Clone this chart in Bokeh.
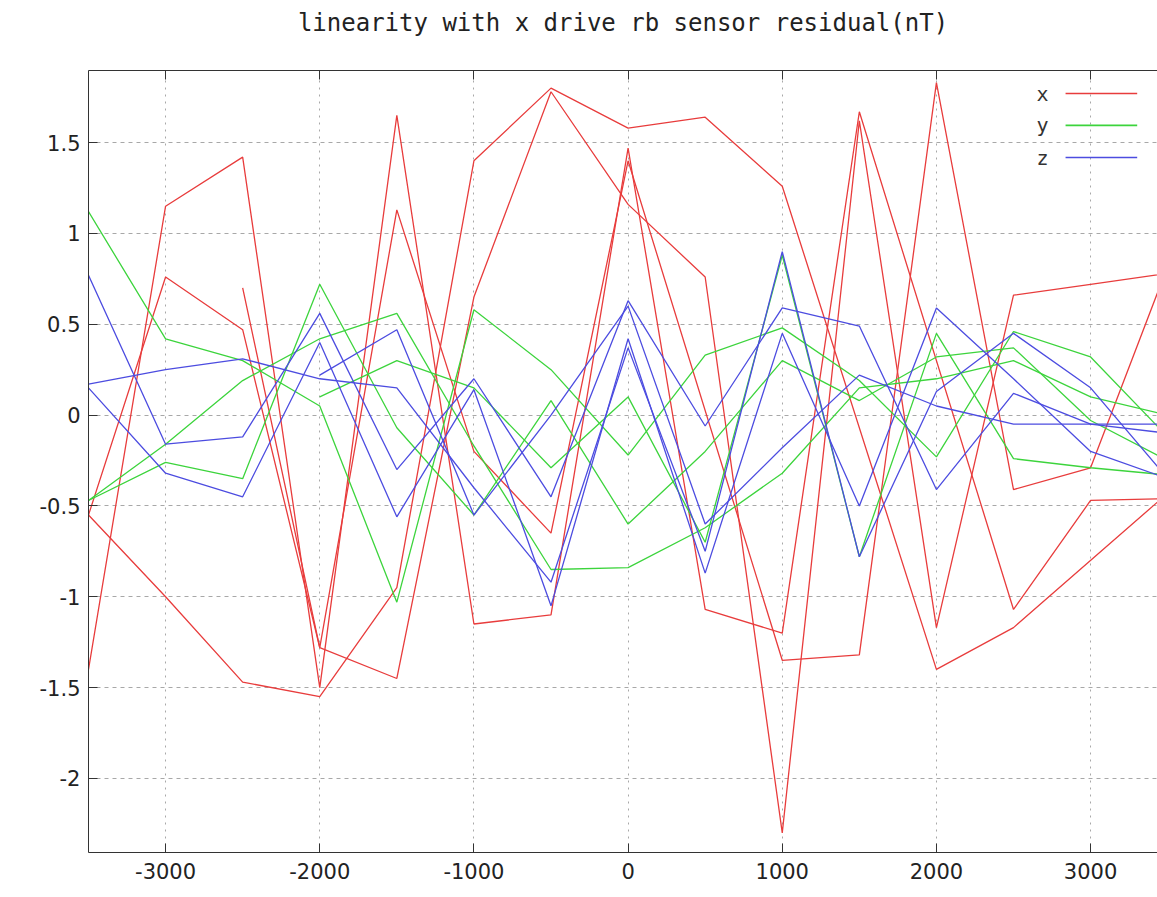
from bokeh.plotting import figure
from bokeh.models import Range1d, FixedTicker, LinearAxis
from bokeh.embed import file_html
from bokeh.resources import INLINE
from bokeh.core.properties import value

# ---------------- data ----------------
title_text = "linearity with x drive rb sensor residual(nT)"
x_ticks = [-3000, -2000, -1000, 0, 1000, 2000, 3000]
x_tick_labels = ["-3000", "-2000", "-1000", "0", "1000", "2000", "3000"]
y_ticks = [-2, -1.5, -1, -0.5, 0, 0.5, 1, 1.5]
y_tick_labels = ["-2", "-1.5", "-1", "-0.5", "0", "0.5", "1", "1.5"]

x_full = [-3500, -3000, -2500, -2000, -1500, -1000, -500, 0, 500, 1000, 1500, 2000, 2500, 3000, 3500]
x_from_m2000 = [-2000, -1500, -1000, -500, 0, 500, 1000, 1500, 2000, 2500, 3000, 3500]

# x sensor residual (red)
red_1_x = [-2500, -2000, -1500, -1000, -500, 0, 1000, 1500, 2000, 2500, 3000, 3500]
red_1_y = [0.70, -1.28, 1.13, -0.20, -0.65, 1.40, -1.35, -1.32, 1.83, -0.41, -0.29, 0.82]
red_2_x = [-3500, -3000, -2500, -2000, -1500, -1000, -500, 0, 500, 1000, 2000, 2500, 3500]
red_2_y = [-0.55, -1.00, -1.47, -1.55, -0.95, 1.40, 1.80, 1.58, 1.64, 1.26, -1.40, -1.17, -0.43]
red_3_x = x_full
red_3_y = [-0.55, 0.76, 0.47, -1.28, -1.45, 0.65, 1.78, 1.16, 0.76, -2.30, 1.62, -1.17, 0.66, 0.72, 0.78]
red_4_x = [-3500, -3000, -2500, -2000, -1500, -1000, -500, 0, 500, 1000, 1500, 2500, 3000, 3500]
red_4_y = [-1.40, 1.15, 1.42, -1.50, 1.65, -1.15, -1.10, 1.47, -1.07, -1.20, 1.67, -1.07, -0.47, -0.46]

# y sensor residual (green)
green_1_x = x_full
green_1_y = [1.12, 0.42, 0.30, 0.05, -1.03, 0.58, 0.25, -0.22, 0.33, 0.48, 0.19, -0.23, 0.46, 0.32, -0.12]
green_2_x = x_full
green_2_y = [-0.47, -0.26, -0.35, 0.72, -0.07, -0.55, 0.08, -0.60, -0.20, 0.30, 0.08, 0.32, 0.37, -0.03, -0.25]
green_3_x = x_full
green_3_y = [-0.47, -0.16, 0.19, 0.42, 0.56, -0.17, -0.85, -0.84, -0.62, -0.32, 0.15, 0.20, 0.30, 0.10, 0.00]
green_4_x = x_from_m2000
green_4_y = [0.10, 0.30, 0.15, -0.29, 0.10, -0.70, 0.88, -0.78, 0.45, -0.24, -0.29, -0.33]

# z sensor residual (blue)
blue_1_x = x_full
blue_1_y = [0.77, -0.16, -0.12, 0.56, -0.30, 0.20, -0.45, 0.63, -0.06, 0.59, 0.49, -0.41, 0.12, -0.05, -0.05]
blue_2_x = x_full
blue_2_y = [0.17, 0.25, 0.31, 0.20, 0.15, -0.40, -0.92, 0.37, -0.75, 0.90, -0.78, 0.13, 0.45, 0.15, -0.35]
blue_3_x = x_full
blue_3_y = [0.15, -0.32, -0.45, 0.40, -0.56, 0.14, -1.05, 0.42, -0.87, 0.45, -0.50, 0.59, 0.20, -0.20, -0.35]
blue_4_x = x_from_m2000
blue_4_y = [0.22, 0.47, -0.55, 0.00, 0.60, -0.60, -0.18, 0.22, 0.05, -0.05, -0.05, -0.10]

series_names = ["x", "y", "z"]
series_colors = ["#e83c3c", "#3cd43c", "#4c4ce0"]

# ---------------- figure ----------------
X0, X1 = -3500, 3434
Y0, Y1 = -2.408, 1.897
FONT = "DejaVu Sans Mono"
TICK_FONT = "DejaVu Sans"

p = figure(width=1157, height=897, x_range=Range1d(X0, X1), y_range=Range1d(Y0, Y1),
           output_backend="svg", toolbar_location=None,
           min_border_left=88, min_border_right=0, min_border_top=70, min_border_bottom=45)
p.outline_line_color = None
p.background_fill_color = "white"
p.border_fill_color = "white"

for ax, ticks, labels in ((p.xaxis[0], x_ticks, x_tick_labels), (p.yaxis[0], y_ticks, y_tick_labels)):
    ax.ticker = FixedTicker(ticks=ticks)
    ax.major_label_overrides = {t: l for t, l in zip(ticks, labels)}
    ax.major_tick_in = 9
    ax.major_tick_out = 0
    ax.minor_tick_line_color = None
    ax.axis_line_color = "#333333"
    ax.major_tick_line_color = "#333333"
    ax.major_label_text_font = TICK_FONT
    ax.major_label_text_font_size = "21px"
    ax.major_label_text_color = "#222222"
p.xaxis[0].major_label_standoff = 10
p.yaxis[0].major_label_standoff = 8

# top border with inward ticks; its axis label serves as the chart title
top = LinearAxis(ticker=FixedTicker(ticks=x_ticks), major_tick_in=9, major_tick_out=0,
                 minor_tick_line_color=None, axis_line_color="#333333",
                 major_tick_line_color="#333333",
                 major_label_overrides={t: "" for t in x_ticks},
                 major_label_standoff=0,
                 axis_label=title_text, axis_label_standoff=34,
                 axis_label_text_font=FONT, axis_label_text_font_size="24px",
                 axis_label_text_font_style="normal", axis_label_text_color="#222222")
p.add_layout(top, "above")

p.xgrid.grid_line_color = "#a8a8a8"
p.xgrid.grid_line_dash = "2 5"
p.ygrid.grid_line_color = "#a8a8a8"
p.ygrid.grid_line_dash = "4 4"

lines = [
    (red_1_x, red_1_y, 0), (red_2_x, red_2_y, 0), (red_3_x, red_3_y, 0), (red_4_x, red_4_y, 0),
    (green_1_x, green_1_y, 1), (green_2_x, green_2_y, 1), (green_3_x, green_3_y, 1), (green_4_x, green_4_y, 1),
    (blue_1_x, blue_1_y, 2), (blue_2_x, blue_2_y, 2), (blue_3_x, blue_3_y, 2), (blue_4_x, blue_4_y, 2),
]
for xs, ys, k in lines:
    p.line(xs, ys, line_color=series_colors[k], line_width=1.3)

# gnuplot style key: label left, sample line right
key_text_x = X0 + 0.898 * (X1 - X0)
key_line_x0 = X0 + 0.914 * (X1 - X0)
key_line_x1 = X0 + 0.981 * (X1 - X0)
key_rows = [Y1 - 0.127, Y1 - 0.302, Y1 - 0.479]
for name, col, yy in zip(series_names, series_colors, key_rows):
    p.line([key_line_x0, key_line_x1], [yy, yy], line_color=col, line_width=1.6)
    p.text(x=[key_text_x], y=[yy], text=[name], text_align="right", text_baseline="middle",
           text_font=value(FONT), text_font_size="20px", text_color="#333333")

open("out.html", "w").write(file_html(p, INLINE))
